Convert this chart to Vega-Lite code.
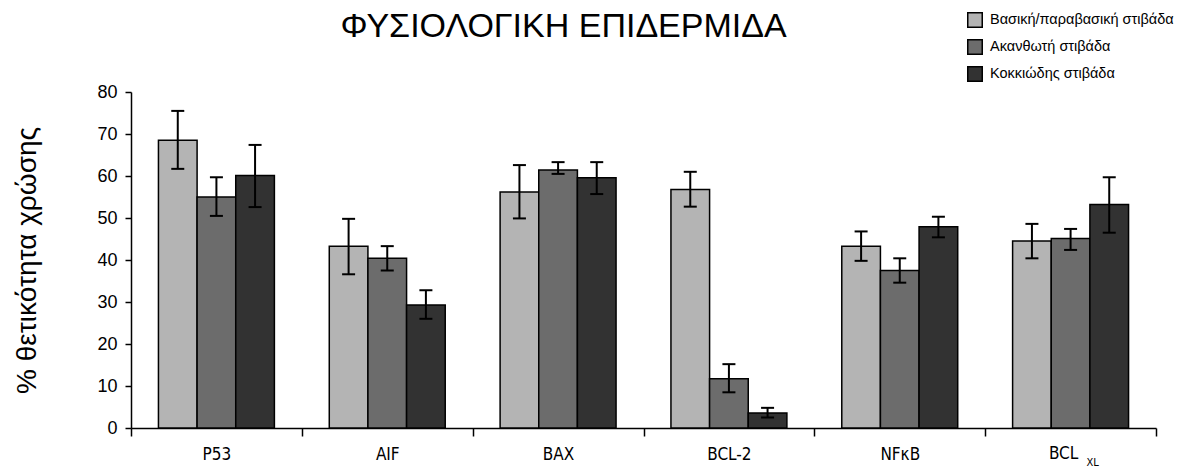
{
  "$schema": "https://vega.github.io/schema/vega-lite/v6.json",
  "width": 1025,
  "height": 336,
  "autosize": "none",
  "padding": {"left": 131, "top": 92, "right": 32, "bottom": 40},
  "background": "white",
  "config": {"view": {"stroke": null}, "font": "Liberation Sans"},
  "title": {"text": "ΦΥΣΙΟΛΟΓΙΚΗ ΕΠΙΔΕΡΜΙΔΑ", "fontSize": 34, "font": "Liberation Sans", "fontWeight": "normal", "color": "black", "anchor": "middle", "dx": -80, "offset": -32},
  "data": {"values": [
    {"category": "P53", "layer": "Βασική/παραβασική στιβάδα", "value": 68.5, "lo": 61.7, "hi": 75.5},
    {"category": "P53", "layer": "Ακανθωτή στιβάδα", "value": 55.0, "lo": 50.5, "hi": 59.7},
    {"category": "P53", "layer": "Κοκκιώδης στιβάδα", "value": 60.1, "lo": 52.6, "hi": 67.4},
    {"category": "AIF", "layer": "Βασική/παραβασική στιβάδα", "value": 43.3, "lo": 36.6, "hi": 49.8},
    {"category": "AIF", "layer": "Ακανθωτή στιβάδα", "value": 40.4, "lo": 37.5, "hi": 43.3},
    {"category": "AIF", "layer": "Κοκκιώδης στιβάδα", "value": 29.3, "lo": 26.0, "hi": 32.8},
    {"category": "BAX", "layer": "Βασική/παραβασική στιβάδα", "value": 56.2, "lo": 49.9, "hi": 62.6},
    {"category": "BAX", "layer": "Ακανθωτή στιβάδα", "value": 61.4, "lo": 60.5, "hi": 63.3},
    {"category": "BAX", "layer": "Κοκκιώδης στιβάδα", "value": 59.6, "lo": 55.7, "hi": 63.3},
    {"category": "BCL-2", "layer": "Βασική/παραβασική στιβάδα", "value": 56.8, "lo": 52.7, "hi": 61.0},
    {"category": "BCL-2", "layer": "Ακανθωτή στιβάδα", "value": 11.7, "lo": 8.5, "hi": 15.2},
    {"category": "BCL-2", "layer": "Κοκκιώδης στιβάδα", "value": 3.6, "lo": 2.5, "hi": 4.8},
    {"category": "NFκB", "layer": "Βασική/παραβασική στιβάδα", "value": 43.3, "lo": 39.8, "hi": 46.8},
    {"category": "NFκB", "layer": "Ακανθωτή στιβάδα", "value": 37.5, "lo": 34.6, "hi": 40.4},
    {"category": "NFκB", "layer": "Κοκκιώδης στιβάδα", "value": 47.9, "lo": 45.4, "hi": 50.3},
    {"category": "BCL XL", "layer": "Βασική/παραβασική στιβάδα", "value": 44.5, "lo": 40.4, "hi": 48.6},
    {"category": "BCL XL", "layer": "Ακανθωτή στιβάδα", "value": 45.1, "lo": 42.4, "hi": 47.4},
    {"category": "BCL XL", "layer": "Κοκκιώδης στιβάδα", "value": 53.2, "lo": 46.5, "hi": 59.7}
  ]},
  "encoding": {
    "x": {"field": "category", "type": "nominal",
      "scale": {"domain": ["P53", "AIF", "BAX", "BCL-2", "NFκB", "BCL XL"], "paddingInner": 0, "paddingOuter": 0},
      "axis": {"title": null, "labelAngle": 0, "tickBand": "extent", "domainColor": "black", "domainWidth": 1.5, "tickColor": "black", "tickWidth": 1.5, "tickSize": 8, "labelFont": "DejaVu Sans Condensed", "labelFontSize": 17, "labelColor": "black", "labelPadding": 10, "labelExpr": "datum.value == 'BCL XL' ? '' : datum.value"}}
  },
  "layer": [
    {
      "mark": {"type": "bar", "stroke": "black", "strokeWidth": 1.5},
      "encoding": {
        "xOffset": {"field": "layer", "type": "nominal", "scale": {"domain": ["Βασική/παραβασική στιβάδα", "Ακανθωτή στιβάδα", "Κοκκιώδης στιβάδα"], "paddingInner": 0, "paddingOuter": 0.71}},
        "y": {"field": "value", "type": "quantitative", "scale": {"domain": [0, 80], "nice": false},
          "axis": {"title": "% θετικότητα χρώσης", "titleFontSize": 28, "titleFontWeight": "normal", "titleColor": "black", "titleFont": "Liberation Sans", "titlePadding": 55, "values": [0, 10, 20, 30, 40, 50, 60, 70, 80], "grid": false, "domainColor": "black", "domainWidth": 1.5, "tickColor": "black", "tickWidth": 1.5, "tickSize": 6, "labelFontSize": 18, "labelColor": "black", "labelPadding": 8, "labelFont": "Liberation Sans"}},
        "color": {"field": "layer", "type": "nominal",
          "scale": {"domain": ["Βασική/παραβασική στιβάδα", "Ακανθωτή στιβάδα", "Κοκκιώδης στιβάδα"], "range": ["#b4b4b4", "#6c6c6c", "#323232"]},
          "legend": {"title": null, "orient": "none", "legendX": 836, "legendY": -80, "symbolType": "square", "symbolSize": 210, "symbolStrokeColor": "black", "symbolStrokeWidth": 1.5, "symbolOpacity": 1, "labelFont": "Liberation Sans", "labelFontSize": 14.5, "labelLimit": 400, "labelColor": "black", "rowPadding": 5, "labelOffset": 7, "padding": 0}}
      }
    },
    {
      "mark": {"type": "rule", "color": "black", "strokeWidth": 2},
      "encoding": {
        "xOffset": {"field": "layer", "type": "nominal"},
        "y": {"field": "lo", "type": "quantitative"},
        "y2": {"field": "hi"}
      }
    },
    {
      "mark": {"type": "tick", "orient": "horizontal", "size": 13, "thickness": 2, "color": "black", "opacity": 1},
      "encoding": {
        "xOffset": {"field": "layer", "type": "nominal"},
        "y": {"field": "lo", "type": "quantitative"}
      }
    },
    {
      "mark": {"type": "tick", "orient": "horizontal", "size": 13, "thickness": 2, "color": "black", "opacity": 1},
      "encoding": {
        "xOffset": {"field": "layer", "type": "nominal"},
        "y": {"field": "hi", "type": "quantitative"}
      }
    },
    {
      "data": {"values": [{"category": "BCL XL", "main": "BCL", "sub": "XL"}]},
      "mark": {"type": "text", "font": "DejaVu Sans Condensed", "fontSize": 17, "baseline": "top", "align": "center", "dx": -7, "dy": 18, "color": "black"},
      "encoding": {"y": {"datum": 0, "type": "quantitative"}, "text": {"field": "main"}}
    },
    {
      "data": {"values": [{"category": "BCL XL", "main": "BCL", "sub": "XL"}]},
      "mark": {"type": "text", "font": "DejaVu Sans Condensed", "fontSize": 11, "baseline": "top", "align": "center", "dx": 22, "dy": 29, "color": "black"},
      "encoding": {"y": {"datum": 0, "type": "quantitative"}, "text": {"field": "sub"}}
    }
  ]
}
